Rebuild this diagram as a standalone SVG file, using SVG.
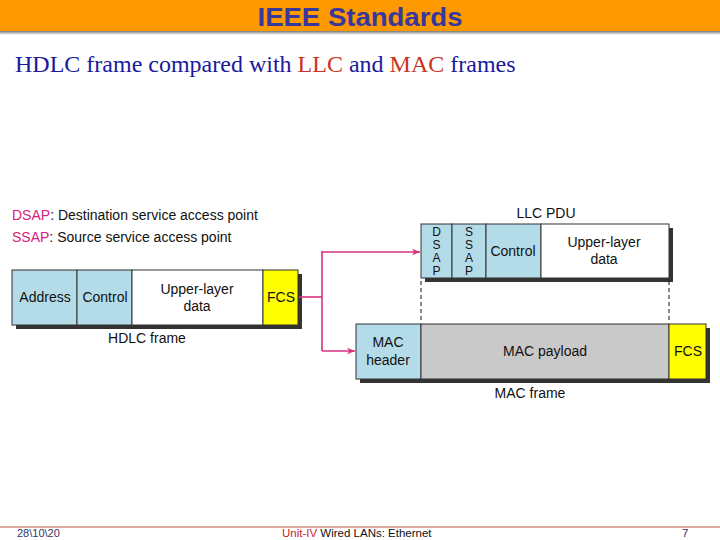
<svg xmlns="http://www.w3.org/2000/svg" width="720" height="540" viewBox="0 0 720 540">
<defs>
<linearGradient id="sh" x1="0" y1="0" x2="0" y2="1">
<stop offset="0" stop-color="#777"/>
<stop offset="1" stop-color="#fff"/>
</linearGradient>
<marker id="arr" viewBox="0 0 10 10" refX="10" refY="5" markerWidth="10" markerHeight="8" markerUnits="userSpaceOnUse" orient="auto">
<path d="M0,1 L10,5 L0,9 L3,5 Z" fill="#d6307f"/>
</marker>
</defs>
<style>
.lbl{font-family:"Liberation Sans",Arial,sans-serif;font-size:14px;fill:#111;text-anchor:middle}
.vl{font-family:"Liberation Sans",Arial,sans-serif;font-size:12px;fill:#111;text-anchor:middle}
.leg{font-family:"Liberation Sans",Arial,sans-serif;font-size:14px;fill:#111}
.pk{fill:#d4237a}
.box{stroke:#333;stroke-width:1}
.blue{fill:#b3dce8}
.yel{fill:#ffff00}
.wht{fill:#fff}
.gry{fill:#c9c9c9}
.shd{fill:#333}
.con{fill:none;stroke:#d6307f;stroke-width:1.6}
.dash{stroke:#111;stroke-width:1;stroke-dasharray:4 3}
.ft{font-family:"Liberation Sans",Arial,sans-serif}
</style>
<rect width="720" height="540" fill="#fff"/>
<g id="header">
<rect x="0" y="0" width="720" height="31" fill="#ff9900"/>
<rect x="0" y="31" width="720" height="4" fill="url(#sh)"/>
<text x="360" y="26" text-anchor="middle" font-family="Liberation Sans,Arial,sans-serif" font-weight="bold" font-size="25" fill="#38389c" textLength="205" lengthAdjust="spacingAndGlyphs">IEEE Standards</text>
</g>
<text x="15" y="72" font-family="Liberation Serif,Times New Roman,serif" font-size="24" fill="#1a1a9c">HDLC frame compared with <tspan fill="#cc3322">LLC</tspan> and <tspan fill="#cc3322">MAC</tspan> frames</text>
<g id="legend">
<text class="leg" x="12" y="220"><tspan class="pk">DSAP</tspan>: Destination service access point</text>
<text class="leg" x="12" y="242"><tspan class="pk">SSAP</tspan>: Source service access point</text>
</g>
<g id="hdlc">
<rect class="shd" x="16" y="274" width="286" height="55"/>
<rect class="box blue" x="12" y="270" width="65" height="55"/>
<rect class="box blue" x="77" y="270" width="55" height="55"/>
<rect class="box wht" x="132" y="270" width="131" height="55"/>
<rect class="box yel" x="263" y="270" width="35" height="55"/>
<text class="lbl" x="45" y="302">Address</text>
<text class="lbl" x="105" y="302">Control</text>
<text class="lbl" x="197" y="294">Upper-layer</text>
<text class="lbl" x="197" y="311">data</text>
<text class="lbl" x="281" y="302">FCS</text>
<text class="lbl" x="147" y="343">HDLC frame</text>
</g>
<g id="llc">
<rect class="shd" x="425" y="228" width="248" height="54"/>
<rect class="box blue" x="421" y="224" width="31" height="54"/>
<rect class="box blue" x="452" y="224" width="34" height="54"/>
<rect class="box blue" x="486" y="224" width="55" height="54"/>
<rect class="box wht" x="541" y="224" width="128" height="54"/>
<text class="vl" x="436.5" y="236">D</text>
<text class="vl" x="436.5" y="249">S</text>
<text class="vl" x="436.5" y="262">A</text>
<text class="vl" x="436.5" y="275">P</text>
<text class="vl" x="469" y="236">S</text>
<text class="vl" x="469" y="249">S</text>
<text class="vl" x="469" y="262">A</text>
<text class="vl" x="469" y="275">P</text>
<text class="lbl" x="513" y="256">Control</text>
<text class="lbl" x="604" y="247">Upper-layer</text>
<text class="lbl" x="604" y="264">data</text>
<text class="lbl" x="546" y="218">LLC PDU</text>
</g>
<g id="mac">
<rect class="shd" x="360" y="328" width="350" height="55"/>
<rect class="box blue" x="356" y="324" width="65" height="55"/>
<rect class="box gry" x="421" y="324" width="248" height="55"/>
<rect class="box yel" x="669" y="324" width="37" height="55"/>
<text class="lbl" x="388" y="347">MAC</text>
<text class="lbl" x="388" y="365">header</text>
<text class="lbl" x="545" y="356">MAC payload</text>
<text class="lbl" x="688" y="356">FCS</text>
<text class="lbl" x="530" y="398">MAC frame</text>
</g>
<g id="connectors">
<line class="dash" x1="421" y1="281" x2="421" y2="323"/>
<line class="dash" x1="669" y1="281" x2="669" y2="323"/>
<polyline class="con" points="299,297 322,297"/>
<polyline class="con" points="322,251 322,351"/>
<polyline class="con" points="322,252 420,252" marker-end="url(#arr)"/>
<polyline class="con" points="322,351 355,351" marker-end="url(#arr)"/>
</g>
<g id="footer">
<line x1="0" y1="527" x2="720" y2="527" stroke="#c0583a" stroke-width="1.2"/>
<text class="ft" x="17" y="537" font-size="11" fill="#333366">28\10\20</text>
<text class="ft" x="282" y="537" font-size="11.5" fill="#111"><tspan fill="#cc2222">Unit-IV</tspan> Wired LANs: Ethernet</text>
<text class="ft" x="682" y="537" font-size="11.5" fill="#333366">7</text>
</g>
</svg>
